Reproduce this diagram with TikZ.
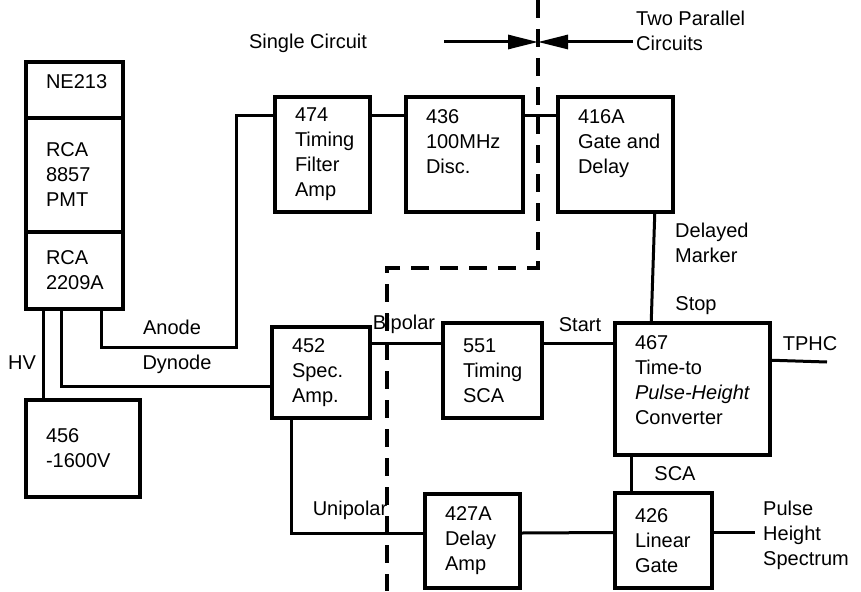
\documentclass[tikz,border=0pt]{standalone}
\usepackage{fontspec}
\setmainfont{Liberation Sans}
\usetikzlibrary{arrows.meta}

\newcommand{\boxtxt}[3]{\parbox[c][#2][c]{#1}{\raggedright\leftskip=20pt #3}}
\newcommand{\boxtxttop}[3]{\parbox[c][#2][t]{#1}{\raggedright\leftskip=20pt\vspace*{13pt}#3}}

\begin{document}
\begin{tikzpicture}[x=1pt, y=-1pt, font=\fontsize{20}{25}\selectfont,
    unit/.style={draw, line width=3.5pt, inner sep=0pt},
    wire/.style={line width=3pt},
    tag/.style={inner sep=0pt, align=left},
    border/.style={line width=4.5pt, dash pattern=on 18pt off 11pt},
    pointer/.style={line width=3pt, -{Triangle[length=30pt,width=14pt]}}]
    \useasboundingbox (0,0) rectangle (861,591);

    % detector and power supply
    \node[unit] (ne) at (74.5,90) {\boxtxttop{97pt}{56pt}{NE213}};
    \node[unit] (pmt) at (74.5,175) {\boxtxt{97pt}{114pt}{RCA\\8857\\PMT}};
    \node[unit] (base) at (74.5,270.5) {\boxtxt{97pt}{77pt}{RCA\\2209A}};
    \node[unit] (hv) at (83,448.5) {\boxtxt{114pt}{97pt}{456\\-1600V}};

    % timing branch
    \node[unit] (tfa) at (322.5,154.5) {\boxtxt{95pt}{115pt}{474\\Timing\\Filter\\Amp}};
    \node[unit] (disc) at (464.5,154.5) {\boxtxttop{117pt}{115pt}{436\\100MHz\\Disc.}};
    \node[unit] (gd) at (615.5,154.5) {\boxtxttop{115pt}{115pt}{416A\\Gate and\\Delay}};

    % energy branch
    \node[unit] (spa) at (321,372.5) {\boxtxt{98pt}{91pt}{452\\Spec.\\Amp.}};
    \node[unit] (tsca) at (492.5,370.5) {\boxtxt{99pt}{95pt}{551\\Timing\\SCA}};
    \node[unit] (tpc) at (692.5,389) {\boxtxttop{155pt}{132pt}{467\\Time-to\\\textit{Pulse-Height}\\Converter}};
    \node[unit] (da) at (472.5,541) {\boxtxt{95pt}{94pt}{427A\\Delay\\Amp}};
    \node[unit] (lg) at (663.5,540.5) {\boxtxt{97pt}{95pt}{426\\Linear\\Gate}};

    % free ends
    \coordinate (tphc) at (827,362);
    \coordinate (phs) at (755,532.5);
    \coordinate (split) at (538,42);
    \coordinate (single) at (444,42);
    \coordinate (parallel) at (633,42);

    % wiring
    \draw[wire] ([xshift=77pt]base.south west) |- (236,347) |- ([yshift=-20pt]tfa.north west);
    \draw[wire] ([xshift=37pt]base.south west) |- ([yshift=33pt]spa.south west);
    \draw[wire] ([xshift=19pt]base.south west) -- ([xshift=19pt]hv.north west);
    \draw[wire] ([yshift=-20pt]tfa.north east) -- ([yshift=-20pt]disc.north west);
    \draw[wire] ([yshift=-20pt]disc.north east) -- ([yshift=-20pt]gd.north west);
    \draw[wire] ([xshift=-20pt]gd.south east) -- ([xshift=38pt]tpc.north west);
    \draw[wire] ([yshift=-18pt]spa.north east) -- ([yshift=-22pt]tsca.north west);
    \draw[wire] ([yshift=-22pt]tsca.north east) -- ([yshift=-22pt]tpc.north west);
    \draw[wire] ([yshift=-39pt]tpc.north east) -- (tphc);
    \draw[wire] ([xshift=18pt]tpc.south west) -- ([xshift=18pt]lg.north west);
    \draw[wire] ([xshift=21pt]spa.south west) |- ([yshift=8pt]da.west);
    \draw[wire] ([yshift=8pt]da.east) -- ([yshift=8pt]lg.west);
    \draw[wire] ([yshift=8pt]lg.east) -- (phs);

    % circuit boundary
    \draw[border] (538,0) -- (538,268) -- (387,268) -- (387,591);
    \draw[pointer] (single) -- (split);
    \draw[pointer] (parallel) -- (split);

    % labels
    \node[tag] (lsingle) at (308,43) {Single Circuit};
    \node[tag, anchor=west] (lparallel) at (636,31) {Two Parallel\\Circuits};
    \node[tag] (lanode) at (172,327) {Anode};
    \node[tag] (ldynode) at (177,364) {Dynode};
    \node[tag] (lhv) at (22,363) {HV};
    \node[tag] (lbipolar) at (404,324) {Bipolar};
    \node[tag] (lstart) at (580,325) {Start};
    \node[tag, anchor=west] (lmarker) at (675,243) {Delayed\\Marker};
    \node[tag] (lstop) at (696,306) {Stop};
    \node[tag] (ltphc) at (810,344) {TPHC};
    \node[tag] (lsca) at (675,474) {SCA};
    \node[tag] (lunipolar) at (350,510) {Unipolar};
    \node[tag, anchor=west] (lspectrum) at (763,535) {Pulse\\Height\\Spectrum};
\end{tikzpicture}
\end{document}
